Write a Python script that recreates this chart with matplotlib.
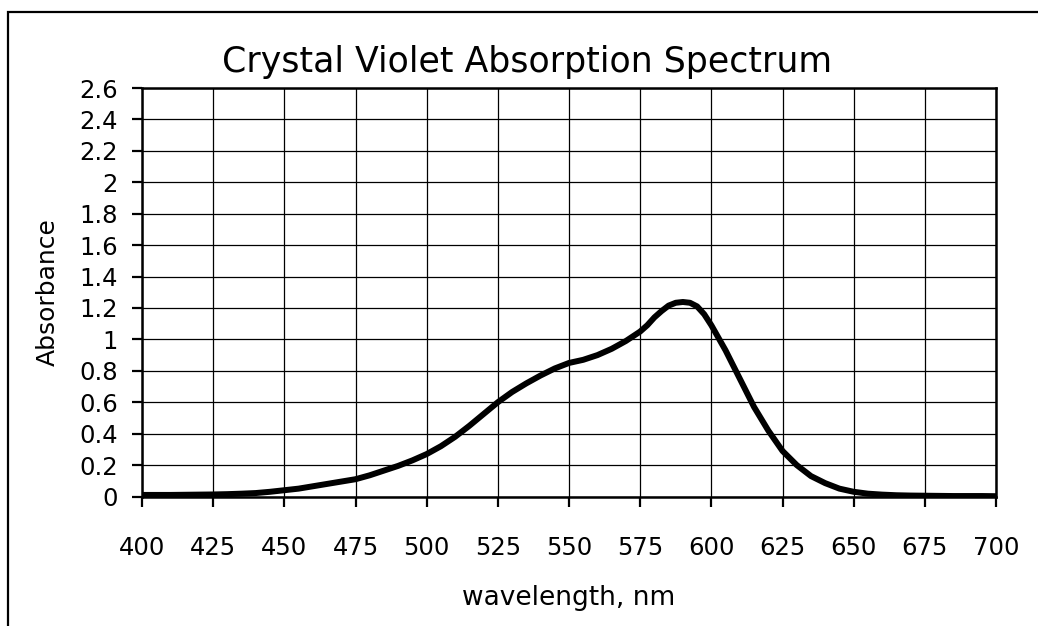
import numpy as np
import matplotlib
matplotlib.use('Agg')
import matplotlib.pyplot as plt
from matplotlib.patches import Rectangle

# %% Spectrum data
wavelength = [400, 405, 410, 415, 420, 425, 430, 435, 440, 445,
              450, 455, 460, 465, 470, 475, 480, 485, 490, 495,
              500, 505, 510, 515, 520, 525, 530, 535, 540, 545,
              550, 555, 560, 565, 570, 575, 577.5, 580, 582.5, 585,
              587.5, 590, 592.5, 595, 597.5, 600, 602.5, 605, 610, 615,
              620, 625, 630, 635, 640, 645, 650, 655, 660, 665,
              670, 675, 680, 685, 690, 695, 700]
absorbance = [0.010, 0.010, 0.010, 0.011, 0.012, 0.013, 0.015, 0.018, 0.022, 0.030,
              0.040, 0.050, 0.065, 0.080, 0.095, 0.110, 0.135, 0.165, 0.195, 0.230,
              0.270, 0.320, 0.380, 0.450, 0.525, 0.600, 0.665, 0.720, 0.770, 0.815,
              0.850, 0.870, 0.900, 0.940, 0.990, 1.050, 1.090, 1.140, 1.180, 1.215,
              1.233, 1.238, 1.233, 1.210, 1.160, 1.090, 1.010, 0.930, 0.750, 0.570,
              0.420, 0.290, 0.200, 0.130, 0.085, 0.050, 0.030, 0.018, 0.012, 0.008,
              0.006, 0.005, 0.004, 0.003, 0.003, 0.003, 0.002]

x_ticks = np.arange(400, 701, 25)
y_ticks = np.round(np.arange(0, 2.61, 0.2), 1)
y_ticklabels = ['0' if v == 0 else ('%d' % v if v == int(v) else '%.1f' % v) for v in y_ticks]

W, H = 1038, 626
fig = plt.figure(figsize=(W/100, H/100), dpi=100)
plt.rcParams['font.family'] = 'DejaVu Sans'

# outer chart frame (cropped at right and bottom)
fig.patches.append(Rectangle((8/W, -0.5), 2.0, 1 - 12/H + 0.5,
                             transform=fig.transFigure, fill=False,
                             edgecolor='black', linewidth=1.6))

ax = fig.add_axes([142/W, 1 - 496.5/H, (996 - 142)/W, (496.5 - 88)/H])
ax.plot(wavelength, absorbance, color='black', linewidth=4.3,
        solid_capstyle='round', solid_joinstyle='round', zorder=3)

ax.set_xlim(400, 700)
ax.set_ylim(0, 2.6)
ax.set_xticks(x_ticks)
ax.set_yticks(y_ticks)
ax.set_yticklabels(y_ticklabels)
ax.grid(True, color='black', linewidth=0.9)
ax.set_axisbelow(True)
for s in ax.spines.values():
    s.set_linewidth(1.8)
ax.tick_params(axis='both', direction='out', length=7.5, width=1.6,
               labelsize=17.5)
ax.tick_params(axis='y', pad=10)
ax.tick_params(axis='x', pad=21)

fig.text(527/W, 1 - 62/H, 'Crystal Violet Absorption Spectrum', fontsize=25,
         ha='center', va='center')
ax.set_ylabel('Absorbance', fontsize=18, labelpad=14)
ax.set_xlabel('wavelength, nm', fontsize=19, labelpad=18)

fig.savefig('out.png', dpi=100)
